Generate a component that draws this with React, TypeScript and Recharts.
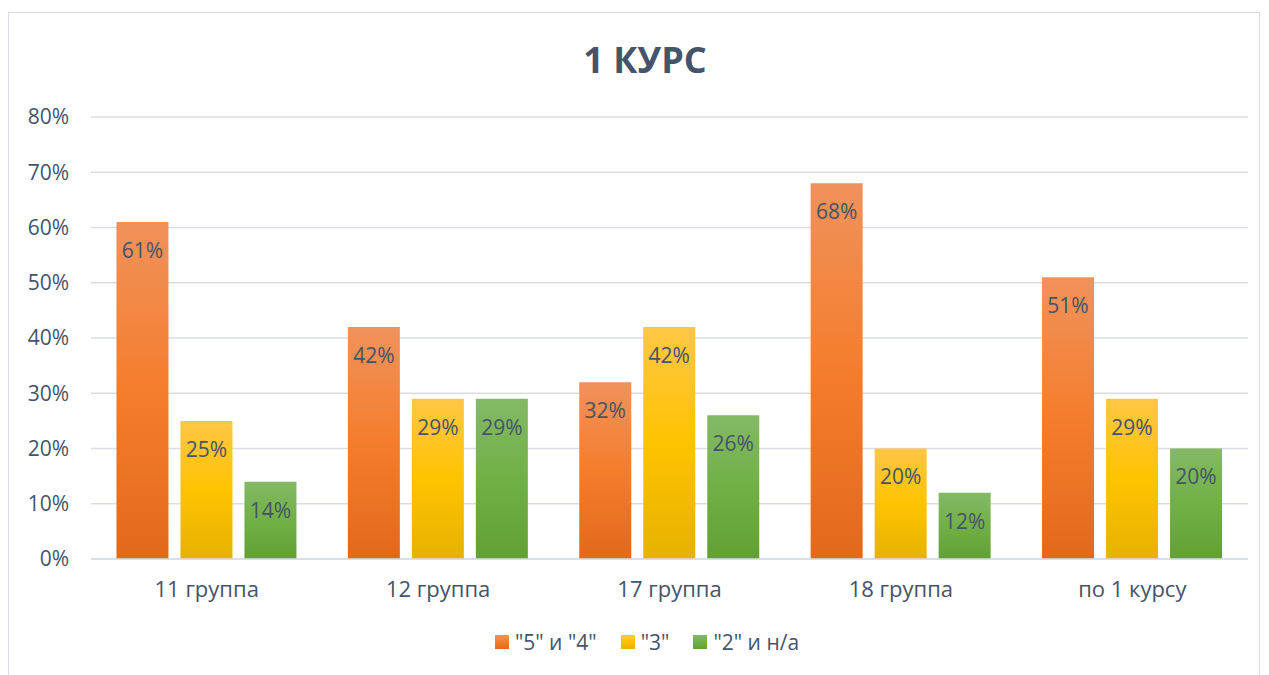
import React from 'react'
import { Bar, BarChart, CartesianGrid, LabelList, Legend, XAxis, YAxis } from 'recharts'

const groups = ['11 группа', '12 группа', '17 группа', '18 группа', 'по 1 курсу']
const good = [61, 42, 32, 68, 51]
const fair = [25, 29, 42, 20, 29]
const poor = [14, 29, 26, 12, 20]
const yTicks = [0, 10, 20, 30, 40, 50, 60, 70, 80]
const seriesNames = ['"5" и "4"', '"3"', '"2" и н/а']
const seriesColors = ['url(#gOrange)', 'url(#gYellow)', 'url(#gGreen)']
const swatches = [
  'linear-gradient(#F0925C, #F47D2C, #E2691C)',
  'linear-gradient(#FFC646, #FFC300, #E6B200)',
  'linear-gradient(#84B965, #71B046, #62A034)',
]

const data = groups.map((g, i) => ({ name: g, good: good[i], fair: fair[i], poor: poor[i] }))

const textColor = '#44546A'
const gridColor = '#D9DDE3'
const font = '"Open Sans", Lato, sans-serif'

function LegendBox() {
  return (
    <div style={{ display: 'flex', justifyContent: 'center', gap: 24, paddingLeft: 26, fontSize: 21, color: textColor, fontFamily: font, lineHeight: '26px' }}>
      {seriesNames.map((n, i) => (
        <div key={n} style={{ display: 'flex', alignItems: 'center', gap: 6 }}>
          <span style={{ display: 'inline-block', width: 14, height: 14, background: swatches[i] }} />
          <span>{n}</span>
        </div>
      ))}
    </div>
  )
}

export default function App() {
  const fmt = (v: any) => `${v}%`
  return (
    <div style={{ paddingTop: 4, fontFamily: font }}>
      <div style={{ position: 'relative', width: 1252, height: 680, border: `1px solid ${gridColor}`, borderBottom: 'none', boxSizing: 'border-box', background: '#fff' }}>
        <div style={{ position: 'absolute', top: 22, left: 22, width: 1228, textAlign: 'center', fontSize: 36, fontWeight: 700, color: textColor }}>
          1 КУРС
        </div>
        <BarChart width={1250} height={680} data={data} margin={{ top: 104, right: 11, bottom: 58, left: 0 }} barGap={12} barCategoryGap="11%">
          <defs>
            <linearGradient id="gOrange" x1="0" y1="0" x2="0" y2="1">
              <stop offset="0%" stopColor="#F0925C" />
              <stop offset="50%" stopColor="#F47D2C" />
              <stop offset="100%" stopColor="#E2691C" />
            </linearGradient>
            <linearGradient id="gYellow" x1="0" y1="0" x2="0" y2="1">
              <stop offset="0%" stopColor="#FFC646" />
              <stop offset="50%" stopColor="#FFC300" />
              <stop offset="100%" stopColor="#E6B200" />
            </linearGradient>
            <linearGradient id="gGreen" x1="0" y1="0" x2="0" y2="1">
              <stop offset="0%" stopColor="#84B965" />
              <stop offset="50%" stopColor="#71B046" />
              <stop offset="100%" stopColor="#62A034" />
            </linearGradient>
          </defs>
          <CartesianGrid vertical={false} stroke={gridColor} strokeWidth={1.5} />
          <XAxis
            dataKey="name"
            axisLine={{ stroke: gridColor, strokeWidth: 1.5 }}
            tickLine={false}
            tick={{ fill: textColor, fontSize: 22 }}
            tickMargin={16}
            height={50}
          />
          <YAxis
            domain={[0, 80]}
            ticks={yTicks}
            tickFormatter={fmt}
            axisLine={false}
            tickLine={false}
            tick={{ fill: textColor, fontSize: 21 }}
            tickMargin={16}
            width={82}
          />
          <Legend verticalAlign="bottom" wrapperStyle={{ top: 616, left: 0, width: 1250 }} content={() => <LegendBox />} />
          <Bar dataKey="good" name={seriesNames[0]} fill={seriesColors[0]} isAnimationActive={false}>
            <LabelList dataKey="good" position="insideTop" offset={21} formatter={fmt} fill={textColor} fontSize={21} />
          </Bar>
          <Bar dataKey="fair" name={seriesNames[1]} fill={seriesColors[1]} isAnimationActive={false}>
            <LabelList dataKey="fair" position="insideTop" offset={21} formatter={fmt} fill={textColor} fontSize={21} />
          </Bar>
          <Bar dataKey="poor" name={seriesNames[2]} fill={seriesColors[2]} isAnimationActive={false}>
            <LabelList dataKey="poor" position="insideTop" offset={21} formatter={fmt} fill={textColor} fontSize={21} />
          </Bar>
        </BarChart>
      </div>
    </div>
  )
}
